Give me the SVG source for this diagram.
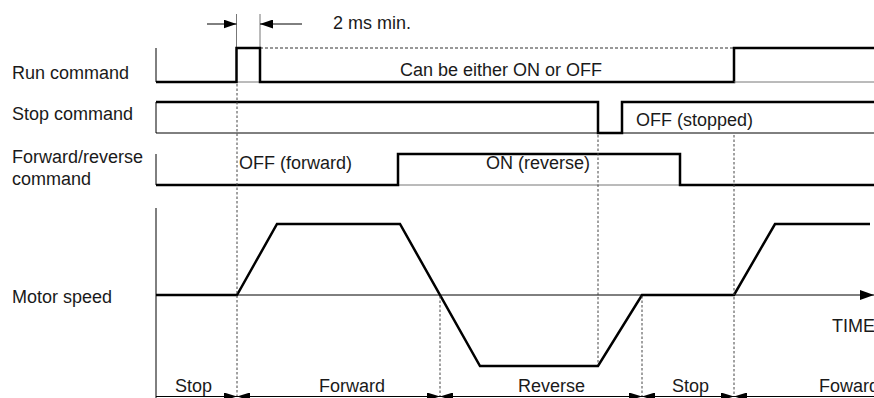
<svg xmlns="http://www.w3.org/2000/svg" width="874" height="398" viewBox="0 0 874 398">
<defs>
<style>
text{font-family:"Liberation Sans",Arial,sans-serif;font-size:18px;fill:#1a1a1a}
.thin{stroke:#000;stroke-width:1;fill:none}
.grey{stroke:#777;stroke-width:1;fill:none}
.thick{stroke:#000;stroke-width:2.5;fill:none;stroke-linejoin:miter}
.dot{stroke:#444;stroke-width:1;stroke-dasharray:2.5,2;fill:none}
.dash{stroke:#333;stroke-width:1;stroke-dasharray:3,2;fill:none}
</style>
<marker id="ah" markerWidth="14" markerHeight="10" refX="14" refY="5" orient="auto" markerUnits="userSpaceOnUse">
<path d="M0,0 L14,5 L0,10 Z" fill="#000"/>
</marker>
<marker id="ahd" markerWidth="13" markerHeight="9" refX="13" refY="4.5" orient="auto" markerUnits="userSpaceOnUse">
<path d="M0,0 L13,4.5 L0,9 Z" fill="#000"/>
</marker>
<marker id="ahs" markerWidth="13" markerHeight="8" refX="13" refY="4" orient="auto" markerUnits="userSpaceOnUse">
<path d="M0,0 L13,4 L0,8 Z" fill="#000"/>
</marker>
</defs>
<rect width="874" height="398" fill="#fff"/>

<g id="labels">
<text x="12" y="79">Run command</text>
<text x="12" y="120">Stop command</text>
<text x="12" y="163">Forward/reverse</text>
<text x="12" y="185">command</text>
<text x="12" y="303">Motor speed</text>
</g>

<g id="run-command">
<path class="thin" d="M156,48 V82"/>
<path class="grey" d="M236.5,14 V48 M260,14 V48"/>
<path class="grey" d="M236.5,82 H260"/>
<path class="dash" d="M260,48 H734"/>
<path class="thick" d="M156,82 H236.5 V48 H260 V82 H734 V48 H874"/>
<path class="grey" d="M734,82 H874"/>
<text x="400" y="76">Can be either ON or OFF</text>
</g>

<g id="dimension">
<line class="thin" x1="207" y1="24" x2="236.5" y2="24" marker-end="url(#ahd)"/>
<line class="thin" x1="302" y1="24" x2="260" y2="24" marker-end="url(#ahd)"/>
<text x="333" y="29">2 ms min.</text>
</g>

<g id="stop-command">
<path class="thin" d="M156,102 V133 H874"/>
<path class="thick" d="M156,102 H598 V133 H622 V102 H874"/>
<text x="636" y="126">OFF (stopped)</text>
</g>

<g id="forward-reverse-command">
<path class="thin" d="M156,154 V185"/>
<path class="grey" d="M398,185 H680"/>
<path class="thick" d="M156,185 H398 V154 H680 V185 H874"/>
<text x="239" y="169">OFF (forward)</text>
<text x="486" y="169">ON (reverse)</text>
</g>

<g id="motor-speed">
<path class="thin" d="M156,208 V398"/>
<line class="thin" x1="156" y1="295" x2="874" y2="295" marker-end="url(#ah)"/>
<path class="thick" d="M156,295 H237 L277,224 H400 L480,366 H598 L642,295 H734 L775,224 H870"/>
<text x="832" y="332">TIME</text>
</g>

<g id="connectors">
<path class="dot" d="M237,84 V396"/>
<path class="dot" d="M440,296 V396"/>
<path class="dot" d="M598,135 V365"/>
<path class="dot" d="M642,296 V396"/>
<path class="dot" d="M734,135 V396"/>
</g>

<g id="phases">
<path class="thin" d="M156,396.5 H874"/>
<line class="thin" x1="220" y1="396.5" x2="237" y2="396.5" marker-end="url(#ahs)"/>
<line class="thin" x1="254" y1="396.5" x2="237" y2="396.5" marker-end="url(#ahs)"/>
<line class="thin" x1="423" y1="396.5" x2="440" y2="396.5" marker-end="url(#ahs)"/>
<line class="thin" x1="457" y1="396.5" x2="440" y2="396.5" marker-end="url(#ahs)"/>
<line class="thin" x1="625" y1="396.5" x2="642" y2="396.5" marker-end="url(#ahs)"/>
<line class="thin" x1="659" y1="396.5" x2="642" y2="396.5" marker-end="url(#ahs)"/>
<line class="thin" x1="717" y1="396.5" x2="734" y2="396.5" marker-end="url(#ahs)"/>
<line class="thin" x1="751" y1="396.5" x2="734" y2="396.5" marker-end="url(#ahs)"/>
<text x="175" y="392">Stop</text>
<text x="319" y="392">Forward</text>
<text x="518" y="392">Reverse</text>
<text x="672" y="392">Stop</text>
<text x="819" y="392">Foward</text>
</g>
</svg>
